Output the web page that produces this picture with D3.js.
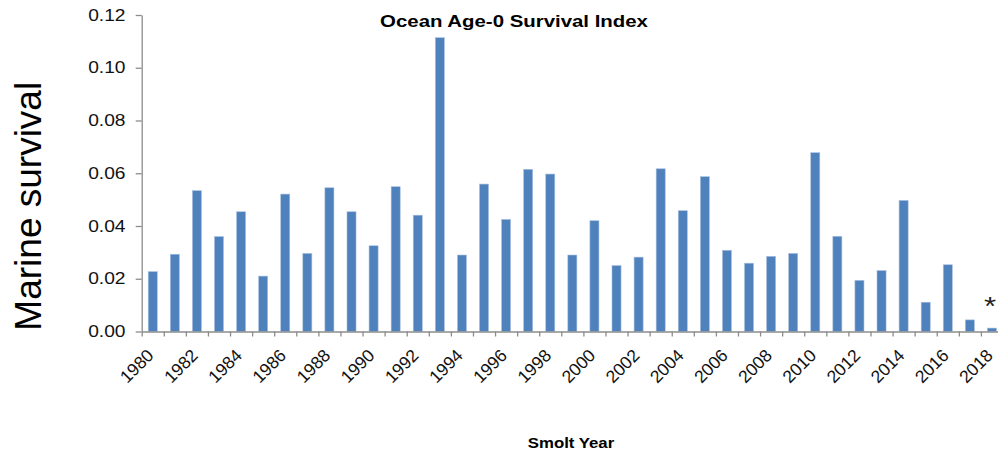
<!DOCTYPE html>
<html>
<head>
<meta charset="utf-8">
<script src="https://cdn.jsdelivr.net/npm/d3@7"></script>
<style>
  html, body { margin: 0; padding: 0; background: #fff; overflow: hidden; }
  svg { display: block; font-family: "Liberation Sans", Arial, sans-serif; }
</style>
</head>
<body>
<svg id="chart" width="998" height="452"></svg>
<script>
// ---- data ----
const years = d3.range(1980, 2019);
const survival = [
  0.0227, 0.0293, 0.0534, 0.0360, 0.0454, 0.0210, 0.0521, 0.0296, 0.0545, 0.0454,
  0.0325, 0.0549, 0.0441, 0.1114, 0.0290, 0.0559, 0.0425, 0.0615, 0.0597, 0.0290,
  0.0420, 0.0250, 0.0282, 0.0617, 0.0458, 0.0587, 0.0308, 0.0259, 0.0285, 0.0296,
  0.0678, 0.0361, 0.0194, 0.0231, 0.0497, 0.0111, 0.0253, 0.0044, 0.0013
];
const yTicks = [0, 0.02, 0.04, 0.06, 0.08, 0.10, 0.12];
const xLabelYears = years.filter(v => v % 2 === 0);
const title = "Ocean Age-0 Survival Index";
const xTitle = "Smolt Year";
const yTitle = "Marine survival";
const note = "*";
const noteYear = 2018;

// ---- layout ----
const SX = 1.2; // horizontal stretch of the original picture's text
const pLeft = 141.7, pRight = 1003, pTop = 15, pBottom = 331.5;
const svg = d3.select("#chart");

const x = d3.scaleBand().domain(years).range([pLeft, pRight]).paddingInner(0.59).paddingOuter(0.295);
const xIdx = d3.scaleLinear().domain([0, years.length]).range([pLeft, pRight]);
const y = d3.scaleLinear().domain([0, 0.12]).range([pBottom, pTop]);

// bars
svg.append("g").selectAll("rect").data(years).join("rect")
  .attr("x", d => x(d))
  .attr("width", x.bandwidth())
  .attr("y", (d, i) => y(survival[i]))
  .attr("height", (d, i) => y(0) - y(survival[i]))
  .attr("fill", "#4f81bd")
  .attr("stroke", "#a9c0e0")
  .attr("stroke-width", 0.6);

// y axis
const yAxis = svg.append("g").attr("transform", `translate(${pLeft},0)`)
  .call(d3.axisLeft(y).tickValues(yTicks).tickFormat(d3.format(".2f")).tickSize(6).tickSizeOuter(0).tickPadding(7.5));
yAxis.select(".domain").attr("stroke", "#8c8c8c").attr("stroke-width", 1.3);
yAxis.selectAll(".tick line").attr("stroke", "#8c8c8c").attr("stroke-width", 1.3);
yAxis.selectAll(".tick text")
  .attr("font-size", 16).attr("fill", "#111")
  .attr("font-family", "Liberation Sans, Arial, sans-serif")
  .attr("transform", `scale(${SX},1)`);

// x axis (ticks at band boundaries)
const xAxis = svg.append("g").attr("transform", `translate(0,${pBottom})`)
  .call(d3.axisBottom(xIdx).tickValues(d3.range(years.length + 1)).tickFormat("").tickSize(5).tickSizeOuter(0));
xAxis.select(".domain").attr("stroke", "#8c8c8c").attr("stroke-width", 1.3);
xAxis.selectAll(".tick line").attr("stroke", "#8c8c8c").attr("stroke-width", 1.3);

// x labels
svg.append("g").selectAll("text").data(xLabelYears).join("text")
  .attr("transform", d => `translate(${x(d) + x.bandwidth() / 2 + 2},${pBottom + 25}) rotate(-45)`)
  .attr("text-anchor", "end")
  .attr("font-size", 17.5)
  .attr("fill", "#111")
  .text(d => d);

// title
svg.append("text")
  .attr("transform", `translate(514,27) scale(${SX},1)`)
  .attr("text-anchor", "middle")
  .attr("font-size", 17).attr("font-weight", "bold").attr("fill", "#000")
  .text(title);

// x title
svg.append("text")
  .attr("transform", `translate(571,448) scale(${SX},1)`)
  .attr("text-anchor", "middle")
  .attr("font-size", 14).attr("font-weight", "bold").attr("fill", "#000")
  .text(xTitle);

// y title
svg.append("text")
  .attr("transform", `translate(41,${(pTop + pBottom) / 2 + 33}) rotate(-90)`)
  .attr("text-anchor", "middle")
  .attr("font-size", 37).attr("fill", "#000")
  .text(yTitle);

// asterisk note
const ni = years.indexOf(noteYear);
svg.append("text")
  .attr("transform", `translate(${x(noteYear) + x.bandwidth() / 2 - 2},${y(survival[ni]) - 13}) scale(${SX},1)`)
  .attr("text-anchor", "middle")
  .attr("font-size", 26).attr("fill", "#222")
  .text(note);
</script>
</body>
</html>
